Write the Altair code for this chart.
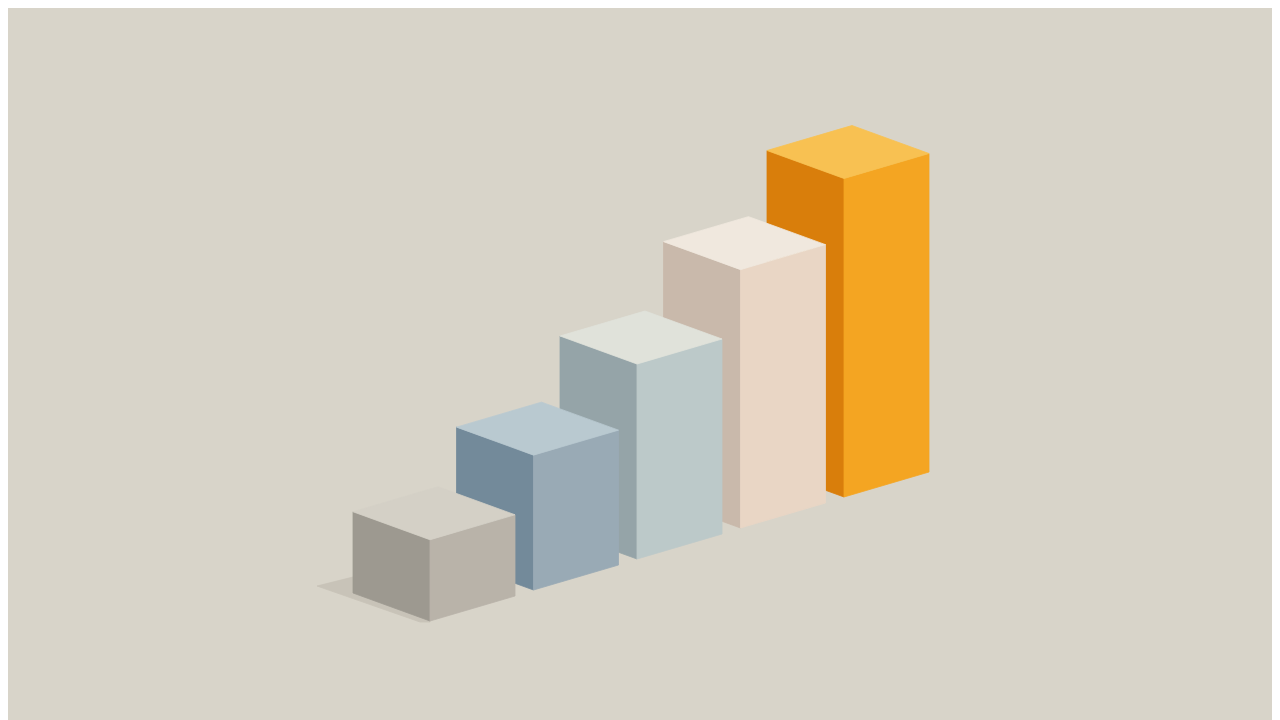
import altair as alt
import pandas as pd

# ---- data -------------------------------------------------------------
categories = ["A", "B", "C", "D", "E"]
values = [25, 41.5, 60, 79.5, 98]
top_colors = ["#d4d0c6", "#b9c9d0", "#e0e2da", "#f0e8de", "#f8c152"]
left_colors = ["#9d9990", "#738a9a", "#95a4a8", "#c9b9ab", "#d97e0b"]
right_colors = ["#b9b3a9", "#99aab5", "#bcc9c9", "#e9d6c5", "#f4a522"]
background = "#d8d4c9"
shadow_color = "#c8c3b8"

# ---- isometric projection (screen-like units) ------------------------
UNIT = 3.25            # height per value unit
ORIGIN = (430, 621)    # front-bottom corner of first box
STEP = (103.5, -31)    # offset between boxes
LEFT = (-77, -28)      # left edge vector of box footprint
RIGHT = (85, -25)      # right edge vector of box footprint


def interp(x, pts):
    for (x0, y0), (x1, y1) in zip(pts[:-1], pts[1:]):
        if x0 <= x <= x1:
            if x1 == x0:
                return y0
            return y0 + (y1 - y0) * (x - x0) / (x1 - x0)
    return pts[-1][1]


def box_rows(i, v):
    h = v * UNIT
    fx, fy = ORIGIN[0] + STEP[0] * i, ORIGIN[1] + STEP[1] * i
    lx, ly = fx + LEFT[0], fy + LEFT[1]
    rx, ry = fx + RIGHT[0], fy + RIGHT[1]
    bx, by = fx + LEFT[0] + RIGHT[0], fy + LEFT[1] + RIGHT[1]
    rows = []
    c = categories[i]
    rows += [dict(face=c + "L", col=left_colors[i], x=lx, y=ly - h, y2=ly),
             dict(face=c + "L", col=left_colors[i], x=fx, y=fy - h, y2=fy)]
    rows += [dict(face=c + "R", col=right_colors[i], x=fx, y=fy - h, y2=fy),
             dict(face=c + "R", col=right_colors[i], x=rx, y=ry - h, y2=ry)]
    up = [(lx, ly - h), (bx, by - h), (rx, ry - h)]
    lo = [(lx, ly - h), (fx, fy - h), (rx, ry - h)]
    for x in sorted({lx, fx, bx, rx}):
        rows.append(dict(face=c + "T", col=top_colors[i], x=x,
                         y=interp(x, up), y2=interp(x, lo)))
    return pd.DataFrame(rows)


xs = alt.Scale(domain=[8, 1272], zero=False, nice=False)
ys = alt.Scale(domain=[8, 720], zero=False, nice=False, reverse=True)


def area_layer(df):
    return alt.Chart(df).mark_area(strokeWidth=0.8, interpolate="linear").encode(
        x=alt.X("x:Q", scale=xs, axis=None),
        y=alt.Y("y:Q", scale=ys, axis=None, stack=None),
        y2="y2:Q",
        color=alt.Color("col:N", scale=None, legend=None),
        stroke=alt.Stroke("col:N", scale=None, legend=None),
        detail="face:N",
    )


# shadow cast to the left of the first box
fx0, fy0 = ORIGIN
lx0, ly0 = fx0 + LEFT[0], fy0 + LEFT[1]
tip = (lx0 - 36, ly0 - 7)
shadow = pd.DataFrame([
    dict(face="S", col=shadow_color, x=tip[0], y=tip[1], y2=tip[1]),
    dict(face="S", col=shadow_color, x=lx0, y=ly0 - 16,
         y2=tip[1] + (fy0 + 1 - tip[1]) * (lx0 - tip[0]) / (fx0 - 10 - tip[0])),
    dict(face="S", col=shadow_color, x=fx0 - 10, y=fy0 - 20, y2=fy0 + 1),
    dict(face="S", col=shadow_color, x=fx0, y=fy0 - 20, y2=fy0 + 1),
])

layers = [area_layer(shadow)]
for i in reversed(range(len(categories))):
    layers.append(area_layer(box_rows(i, values[i])))

chart = alt.layer(*layers).properties(
    width=1264, height=712,
    autosize=alt.AutoSizeParams(type="none"),
    padding=0,
    background=background,
).configure_view(stroke=None)

chart.save("out.html", embed_options={"renderer": "svg", "actions": False})
